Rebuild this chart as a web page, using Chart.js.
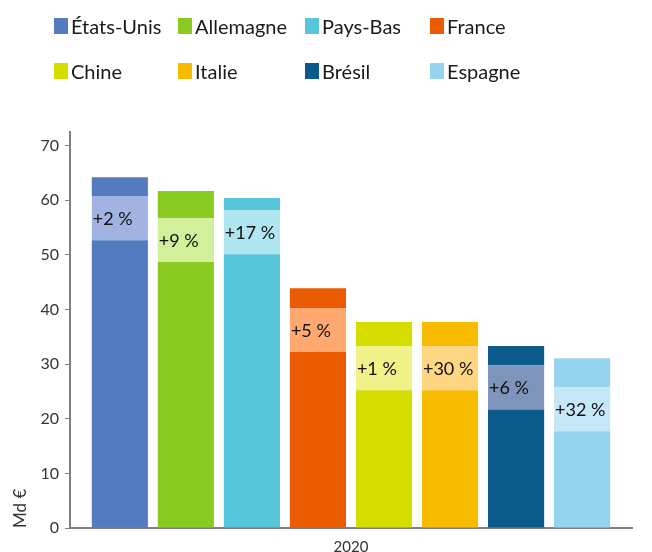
<!DOCTYPE html>
<html>
<head>
<meta charset="utf-8">
<script src="https://cdn.jsdelivr.net/npm/chart.js@4/dist/chart.umd.min.js"></script>
<style>
  html, body { margin: 0; padding: 0; background: #fff; }
  #wrap { position: relative; width: 652px; height: 552px; }
  #chart { position: absolute; left: 0; top: 0; }
  #legend {
    position: absolute; left: 54px; top: 13px;
    display: grid; grid-template-columns: 124px 127px 125px 200px;
    grid-auto-rows: 45px;
    font-family: Lato, "Open Sans", sans-serif; font-size: 20px; color: #1a1a1a;
  }
  .item { display: flex; align-items: center; height: 26px; white-space: nowrap; }
  .box { width: 14px; height: 16px; margin-right: 3px; flex: none; }
</style>
</head>
<body>
<div id="wrap">
  <canvas id="chart" width="652" height="552"></canvas>
  <div id="legend"></div>
</div>
<script>
// ---- data ----
const categories = ['2020'];
const countries = ['États-Unis', 'Allemagne', 'Pays-Bas', 'France', 'Chine', 'Italie', 'Brésil', 'Espagne'];
// lower segment (Md €)
const baseValues = [52.7, 48.7, 50.1, 32.2, 25.2, 25.2, 21.7, 17.7];
// middle (lighter) segment carrying the growth label
const bandValues = [8.1, 8.0, 8.1, 8.0, 8.1, 8.1, 8.1, 8.0];
// upper segment
const topValues = [3.4, 5.0, 2.2, 3.7, 4.4, 4.4, 3.5, 5.4];
const growthLabels = ['+2 %', '+9 %', '+17 %', '+5 %', '+1 %', '+30 %', '+6 %', '+32 %'];
const yTicks = [0, 10, 20, 30, 40, 50, 60, 70];
const yAxisTitle = 'Md €';

// ---- styles ----
const baseColors  = ['#527BC0', '#8ACB22', '#57C5DA', '#EB5C02', '#D6DE00', '#F9BB00', '#0A5A8C', '#96D3EC'];
const lightColors = ['#A1B3E0', '#D2F09A', '#B0E6F0', '#FFA971', '#F2F28A', '#FFD782', '#7E94BB', '#C6E7F7'];
const FONT = 'Lato, "Open Sans", sans-serif';

// legend (HTML)
const legendEl = document.getElementById('legend');
countries.forEach((c, i) => {
  const it = document.createElement('div');
  it.className = 'item';
  const b = document.createElement('span');
  b.className = 'box';
  b.style.background = baseColors[i];
  const t = document.createElement('span');
  t.textContent = c;
  it.appendChild(b); it.appendChild(t);
  legendEl.appendChild(it);
});

const datasets = [];
countries.forEach((c, i) => {
  const stack = 's' + i;
  datasets.push({ label: c, data: [baseValues[i]], backgroundColor: baseColors[i], stack, role: 'base', idx: i });
  datasets.push({ label: c, data: [bandValues[i]], backgroundColor: lightColors[i], stack, role: 'band', idx: i });
  datasets.push({ label: c, data: [topValues[i]], backgroundColor: baseColors[i], stack, role: 'top', idx: i });
});

const bandLabelPlugin = {
  id: 'bandLabels',
  afterDatasetsDraw(chart) {
    const ctx = chart.ctx;
    ctx.save();
    ctx.font = '18px ' + FONT;
    ctx.fillStyle = '#111';
    ctx.textAlign = 'left';
    ctx.textBaseline = 'middle';
    chart.data.datasets.forEach((ds, di) => {
      if (ds.role !== 'band') return;
      const meta = chart.getDatasetMeta(di);
      meta.data.forEach(el => {
        const p = el.getProps(['x', 'y', 'base', 'width'], true);
        ctx.fillText(growthLabels[ds.idx], p.x - p.width / 2 + 1, (p.y + p.base) / 2 + 1);
      });
    });
    ctx.restore();
  }
};

new Chart(document.getElementById('chart'), {
  type: 'bar',
  data: { labels: categories, datasets },
  options: {
    responsive: false,
    animation: false,
    devicePixelRatio: 1,
    layout: { padding: { top: 132, left: 10, right: 20, bottom: -14 } },
    datasets: { bar: { categoryPercentage: 0.94, barPercentage: 0.85, borderWidth: 0 } },
    plugins: { legend: { display: false }, tooltip: { enabled: false } },
    scales: {
      x: {
        stacked: true,
        grid: { display: false, drawTicks: false },
        border: { display: true, color: '#808080', width: 2 },
        ticks: { font: { family: FONT, size: 15 }, color: '#333', padding: 10 }
      },
      y: {
        stacked: true,
        min: 0, max: 72.5,
        afterBuildTicks(axis) { axis.ticks = yTicks.map(v => ({ value: v })); },
        ticks: { font: { family: FONT, size: 16 }, color: '#333', padding: 6 },
        grid: { drawOnChartArea: false, drawTicks: true, tickLength: 5, color: '#808080' },
        border: { display: true, color: '#808080', width: 2 },
        title: { display: true, text: yAxisTitle, align: 'start', font: { family: FONT, size: 17 }, color: '#333', padding: { top: 0, bottom: 4 } }
      }
    }
  },
  plugins: [bandLabelPlugin]
});
</script>
</body>
</html>
